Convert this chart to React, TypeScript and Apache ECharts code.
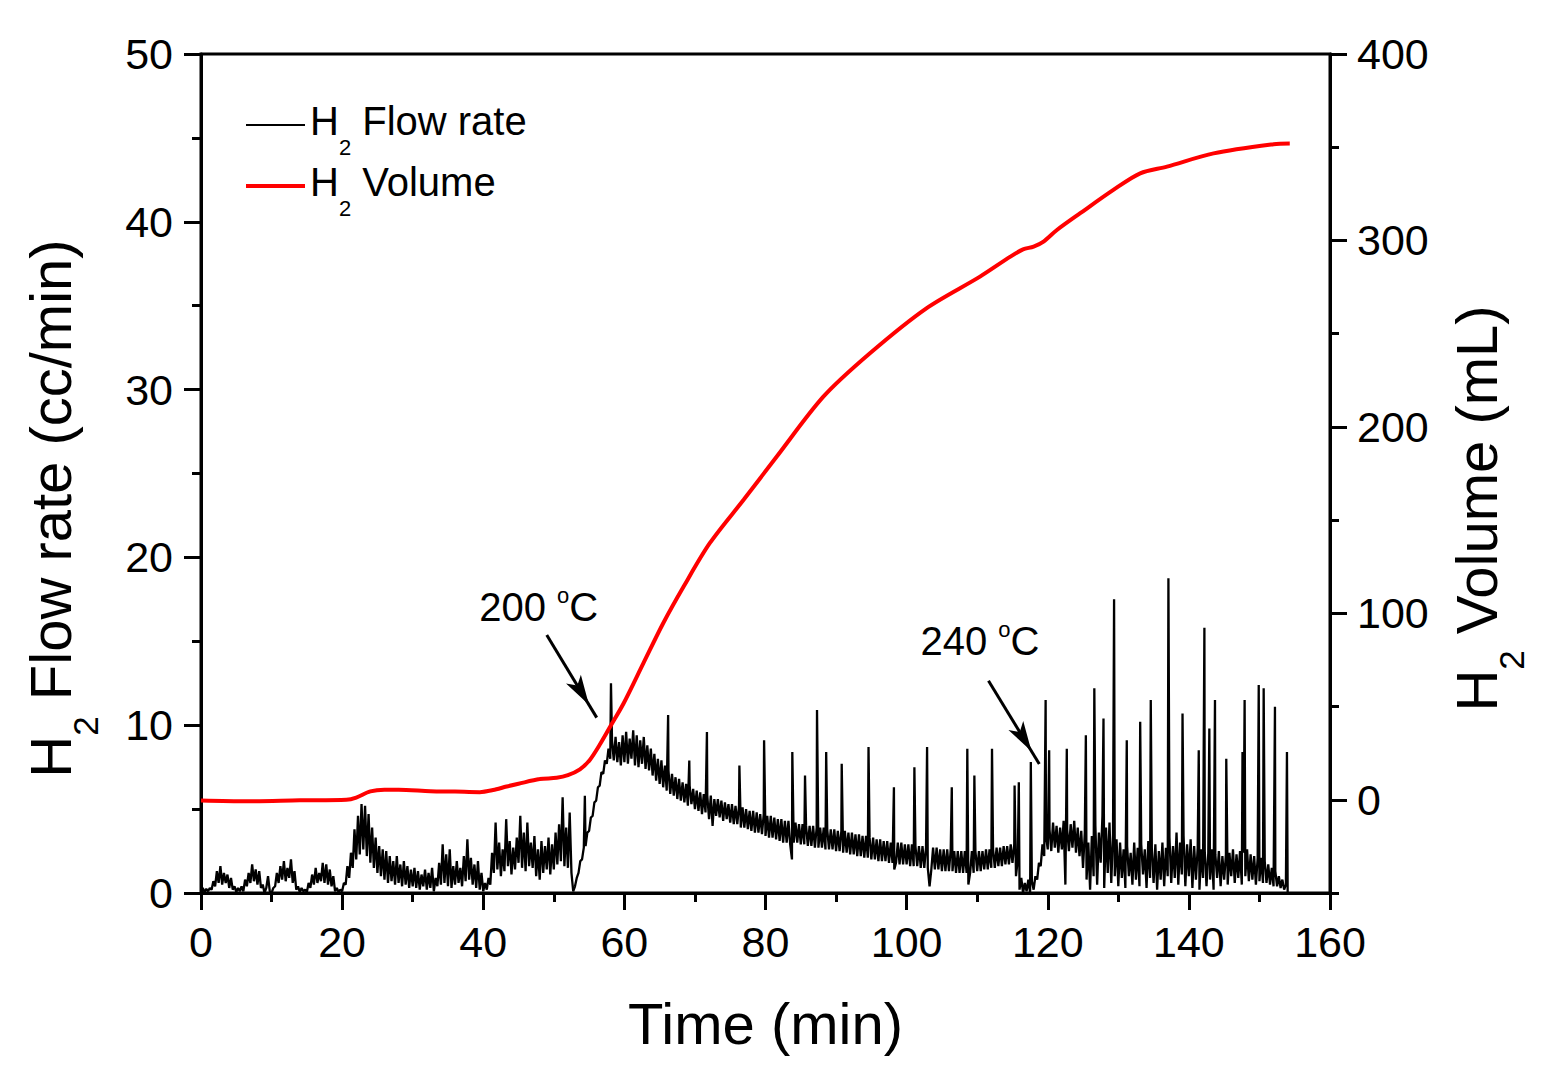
import { useEffect, useRef } from "react";
import * as echarts from "echarts";

const FONT = "'Liberation Sans', Arial, Helvetica, sans-serif";

// H2 flow rate (cc/min), one reading every 0.25 min from t = 0
const flowStep = 0.25;
const flowRate = [
  // 0 - 9.75 min
  0.1, 0.3, 0.05, 0.25, 0.1, 0.3, 0.2, 0.7, 0.4, 1.3, 0.6, 1.6, 0.5, 1.2, 0.6, 1.1, 0.3, 0.9, 0.2, 0.4,
  0.05, 0.3, 0.1, 0.4, 0.1, 0.8, 0.4, 1.2, 0.6, 1.7, 0.7, 1.4, 0.5, 1.3, 0.3, 0.5, 0.0, 0.3, 1.0, 0.1,
  // 10 - 19.75
  0.0, 0.3, 0.4, 1.2, 0.6, 1.6, 0.8, 1.9, 0.7, 1.5, 0.9, 2.0, 0.6, 1.3, 0.2, 0.4, 0.05, 0.3, 0.1, 0.2,
  0.05, 0.6, 0.3, 1.1, 0.5, 1.5, 0.6, 1.2, 0.7, 1.8, 0.6, 1.7, 0.5, 1.4, 0.4, 1.0, 0.1, 0.3, 0.05, 0.2,
  // 20 - 29.75
  0.1, 0.6, 0.5, 1.6, 0.9, 2.4, 1.5, 3.8, 2.0, 4.6, 2.3, 5.3, 2.6, 5.2, 2.2, 4.7, 1.8, 3.9, 1.5, 3.3,
  1.2, 2.8, 1.0, 2.6, 0.8, 2.5, 0.6, 2.2, 0.7, 1.9, 0.5, 2.2, 0.6, 1.7, 0.4, 1.9, 0.5, 1.6, 0.3, 1.4,
  // 30 - 39.75
  0.4, 1.5, 0.3, 1.3, 0.2, 1.1, 0.4, 1.4, 0.2, 1.2, 0.3, 1.5, 0.1, 0.9, 0.4, 1.8, 0.5, 2.9, 0.6, 2.3,
  0.4, 2.6, 0.3, 1.6, 0.5, 1.9, 0.6, 1.5, 0.4, 2.2, 0.7, 3.2, 0.8, 2.1, 0.5, 1.7, 0.3, 1.9, 0.2, 1.2,
  // 40 - 49.75
  0.1, 0.6, 0.2, 0.9, 0.5, 2.4, 1.2, 4.2, 1.4, 3.0, 1.0, 2.6, 1.3, 4.4, 1.6, 3.1, 1.1, 2.7, 1.4, 3.3,
  1.8, 4.6, 1.5, 3.6, 1.3, 4.2, 1.6, 3.0, 1.5, 3.4, 1.0, 2.6, 0.8, 3.1, 1.2, 2.8, 1.4, 3.3, 1.1, 2.9,
  // 50 - 59.75
  1.4, 3.6, 1.7, 4.1, 1.9, 5.7, 1.6, 3.9, 1.5, 4.8, 1.2, 0.1, 0.4, 0.9, 1.2, 1.9, 2.0, 2.7, 2.8, 3.6,
  3.7, 4.5, 4.6, 5.4, 5.5, 6.3, 6.4, 7.2, 7.1, 7.9, 7.7, 8.6, 8.0, 9.1, 7.9, 9.3, 7.8, 9.0, 7.6, 9.4,
  // 60 - 69.75
  7.8, 9.6, 7.7, 9.2, 8.0, 9.7, 7.6, 9.4, 7.5, 9.1, 7.7, 9.3, 7.4, 8.8, 7.3, 8.6, 7.0, 8.3, 6.7, 8.0,
  6.5, 7.9, 6.3, 7.6, 6.1, 7.3, 5.9, 7.1, 5.8, 6.9, 5.6, 6.8, 5.5, 6.6, 5.4, 6.5, 5.2, 6.4, 5.3, 6.2,
  // 70 - 79.75
  5.0, 6.1, 4.9, 6.0, 4.7, 5.9, 4.8, 5.8, 4.4, 5.8, 4.0, 5.6, 4.6, 5.6, 4.5, 5.5, 4.3, 5.4, 4.4, 5.3,
  4.2, 5.3, 4.1, 5.2, 4.1, 5.2, 3.9, 5.1, 3.9, 5.0, 3.8, 4.9, 3.7, 4.9, 3.6, 4.8, 3.6, 4.7, 3.5, 4.7,
  // 80 - 89.75
  3.4, 4.6, 3.3, 4.6, 3.3, 4.5, 3.2, 4.4, 3.1, 4.4, 3.0, 4.3, 3.0, 4.3, 2.9, 2.0, 3.0, 4.2, 3.0, 4.1,
  2.9, 4.1, 2.9, 4.0, 2.8, 4.0, 2.8, 4.0, 2.7, 3.9, 2.7, 3.9, 2.7, 3.9, 2.6, 3.8, 2.6, 3.8, 2.6, 3.8,
  // 90 - 99.75
  2.5, 3.7, 2.5, 3.7, 2.4, 3.7, 2.4, 3.6, 2.3, 3.6, 2.3, 3.5, 2.2, 3.5, 2.2, 3.4, 2.1, 3.4, 2.1, 3.3,
  2.0, 3.3, 2.0, 3.2, 1.9, 3.2, 1.9, 3.1, 1.9, 3.1, 1.8, 3.0, 1.8, 1.4, 1.8, 3.0, 1.7, 3.0, 1.7, 2.9,
  // 100 - 109.75
  1.7, 2.9, 1.6, 2.9, 1.6, 2.8, 1.6, 2.8, 1.5, 2.8, 1.5, 2.7, 1.5, 0.4, 1.4, 2.7, 1.4, 2.7, 1.4, 2.6,
  1.3, 2.6, 1.3, 2.6, 1.3, 2.6, 1.3, 2.5, 1.2, 2.5, 1.2, 2.5, 1.2, 2.5, 1.2, 0.5, 1.2, 2.5, 1.2, 2.5,
  // 110 - 119.75
  1.3, 2.5, 1.3, 2.5, 1.4, 2.6, 1.4, 2.6, 1.5, 2.6, 1.5, 2.7, 1.6, 2.7, 1.6, 2.8, 1.7, 2.8, 1.7, 2.9,
  1.8, 2.9, 1.0, 2.0, 0.2, 0.9, 0.0, 0.6, 0.1, 0.8, 0.0, 0.7, 0.2, 1.0, 0.8, 1.8, 1.6, 2.9, 2.2, 3.4,
  // 120 - 129.75
  2.6, 3.8, 2.5, 4.2, 2.7, 4.0, 2.4, 3.9, 2.6, 4.3, 0.5, 3.8, 2.5, 4.1, 2.7, 4.3, 2.4, 3.9, 2.2, 3.7,
  1.5, 3.6, 0.8, 3.0, 0.2, 3.4, 1.0, 4.0, 0.5, 3.6, 1.8, 4.6, 0.3, 3.9, 1.2, 4.2, 0.6, 3.5, 1.0, 3.2,
  // 130 - 139.75
  0.4, 3.0, 0.9, 2.6, 0.3, 2.8, 1.0, 2.4, 0.5, 3.0, 0.8, 2.7, 0.4, 2.9, 1.1, 2.6, 0.3, 3.1, 0.9, 2.7,
  0.6, 2.9, 0.2, 2.5, 0.8, 3.0, 0.4, 2.7, 1.0, 3.3, 0.6, 2.8, 0.9, 3.6, 0.5, 3.0, 1.1, 3.4, 0.4, 2.9,
  // 140 - 149.75
  1.0, 3.2, 0.3, 2.8, 0.8, 2.7, 0.2, 2.6, 0.9, 2.5, 0.4, 2.4, 0.8, 2.6, 0.2, 2.3, 0.9, 2.5, 0.4, 2.2,
  0.8, 2.3, 0.5, 2.4, 1.0, 2.6, 0.6, 2.3, 0.9, 2.5, 0.5, 2.4, 1.0, 2.6, 0.7, 2.3, 0.8, 2.2, 0.5, 2.1,
  // 150 - 154
  0.7, 2.1, 0.6, 1.9, 0.6, 1.7, 0.5, 1.5, 0.4, 1.3, 0.4, 1.0, 0.3, 0.8, 0.2, 0.5, 0.0,
];

// single-reading spikes: [time (min), flow rate (cc/min)]
const flowSpikes = [
  [54.4, 5.8], [58.1, 12.5], [66.2, 10.6], [69.2, 7.9], [71.7, 9.6], [76.3, 7.6],
  [79.8, 9.1], [83.8, 8.4], [85.6, 7.0], [87.3, 10.9], [88.6, 8.4], [90.8, 7.7],
  [94.6, 8.7], [98.2, 6.3], [101.1, 7.5], [102.9, 8.7], [106.4, 6.3], [108.6, 8.6],
  [109.6, 7.0], [112.1, 8.6], [115.3, 6.4], [115.9, 6.6], [117.6, 7.8], [119.7, 11.5],
  [120.2, 8.5], [122.7, 8.6], [125.4, 9.4], [126.6, 12.2], [127.9, 10.4], [129.4, 17.5],
  [131.2, 9.1], [133.1, 10.2], [134.6, 11.5], [137.1, 18.75], [139.1, 10.7], [141.4, 8.5],
  [142.2, 15.8], [142.9, 9.8], [143.7, 11.5], [145.3, 8.0], [147.6, 8.4], [147.9, 11.5],
  [149.9, 12.4], [150.6, 12.2], [152.2, 11.1], [153.9, 8.4],
];

// cumulative H2 volume
const volumeTime = [
  0, 6.5, 14, 20.6, 22, 24, 26, 28, 32.5, 36, 39.5, 41.4, 43.3, 45, 48, 50.4, 52, 53.7,
  55.1, 56.5, 58, 59.9, 62.7, 65.5, 68.4, 72.1, 76.9, 81.6, 88.2, 94.8, 102.8, 110.4,
  114.7, 116.5, 118, 119.4, 121.3, 124.6, 129.3, 133.1, 136.9, 143.5, 152, 154.3,
];
const volumeMl = [
  -0.4, -0.8, -0.3, 0, 1.2, 4.5, 5.4, 5.4, 4.6, 4.4, 4.1, 5.2, 7.1, 8.6, 11.1, 11.8, 13.2, 16.3,
  21.4, 29.5, 39.3, 51.8, 73.3, 94.7, 114.4, 137.6, 160.9, 184.1, 216.2, 239.5, 263.6, 280.6,
  291.3, 295.2, 296.7, 299.4, 305.6, 314.6, 327.1, 336.0, 339.6, 346.7, 351.6, 352.0,
];

// temperature notes: label anchor and arrow, in (min, cc/min)
const notes = [
  { label: "200", at: [47.86, 17.28], from: [49.0, 15.38], to: [56.08, 10.45] },
  { label: "240", at: [110.4, 15.25], from: [111.6, 12.65], to: [118.8, 7.69] },
];

const FLOW_NAME = "H2 Flow rate";
const VOLUME_NAME = "H2 Volume";

const GRID = { left: 201, top: 54, width: 1129, height: 839 };
const VOL_MIN = -50;
const VOL_MAX = 400;

const black = "#000";
const red = "#ff0000";
const axisLine = { onZero: false, lineStyle: { color: black, width: 3 } };
const tickStyle = { color: black, width: 3 };
const tickLabel = { fontSize: 43, color: black, fontFamily: FONT };

const Chart: React.FC = () => {
  const chartRef = useRef<HTMLDivElement>(null);

  useEffect(() => {
    if (!chartRef.current) return;
    const chart = echarts.init(chartRef.current, null, { renderer: "svg" });

    const flowData: number[][] = flowRate.map((v, i) => [i * flowStep, v]);
    flowSpikes.forEach((p) => flowData.push(p));
    flowData.sort((a, b) => a[0] - b[0]);
    const volumeData = volumeTime.map((t, i) => [t, volumeMl[i]]);

    const titleRich = {
      t: { fontSize: 58, lineHeight: 64, verticalAlign: "top", fontFamily: FONT, color: black },
      s: { fontSize: 35, lineHeight: 35, verticalAlign: "top", padding: [47, 0, 0, 0], fontFamily: FONT, color: black },
    };

    const option = {
      animation: false,
      textStyle: { fontFamily: FONT, color: black },
      grid: [
        { ...GRID, show: true, borderColor: black, borderWidth: 3, backgroundColor: "transparent" },
        // same plot area, cut at volume 0 so the labelled ticks sit at 0..400
        { left: GRID.left, top: GRID.top, width: GRID.width, height: (GRID.height * VOL_MAX) / (VOL_MAX - VOL_MIN) },
      ],
      legend: {
        orient: "vertical",
        left: 246,
        top: 101,
        padding: 0,
        itemGap: 4,
        itemWidth: 59,
        itemHeight: 14,
        data: [
          { name: FLOW_NAME, icon: "path://M0,0H59V2H0Z", itemStyle: { color: black } },
          { name: VOLUME_NAME, icon: "path://M0,0H59V4H0Z", itemStyle: { color: red } },
        ],
        formatter: (name: string) => `{a|H}{s|2}{a| ${name.slice(3)}}`,
        textStyle: {
          rich: {
            a: { fontSize: 40, lineHeight: 48, verticalAlign: "top", fontFamily: FONT, color: black },
            s: { fontSize: 22, lineHeight: 22, verticalAlign: "top", padding: [35, 0, 0, 0], fontFamily: FONT, color: black },
          },
        },
      },
      xAxis: [
        {
          gridIndex: 0,
          type: "value",
          position: "bottom",
          min: 0,
          max: 160,
          interval: 20,
          axisLine,
          axisTick: { length: 17, lineStyle: tickStyle },
          minorTick: { show: true, splitNumber: 2, length: 9, lineStyle: tickStyle },
          axisLabel: { ...tickLabel, margin: 27 },
          splitLine: { show: false },
          name: "Time (min)",
          nameLocation: "middle",
          nameGap: 101,
          nameTextStyle: { fontSize: 58, lineHeight: 58, color: black, fontFamily: FONT },
        },
        { gridIndex: 1, type: "value", min: 0, max: 160, show: false, axisLine: { onZero: false }, splitLine: { show: false } },
      ],
      yAxis: [
        {
          gridIndex: 0,
          type: "value",
          position: "left",
          min: 0,
          max: 50,
          interval: 10,
          axisLine,
          axisTick: { length: 17, lineStyle: tickStyle },
          minorTick: { show: true, splitNumber: 2, length: 9, lineStyle: tickStyle },
          axisLabel: { ...tickLabel, margin: 28 },
          splitLine: { show: false },
          name: "{t|H}{s|2}{t| Flow rate (cc/min)}",
          nameLocation: "middle",
          nameRotate: 90,
          nameGap: 116,
          nameTextStyle: { padding: [0, 70, 0, 0], rich: titleRich },
        },
        {
          gridIndex: 0,
          type: "value",
          position: "right",
          min: VOL_MIN,
          max: VOL_MAX,
          interval: 50,
          axisLine,
          axisTick: { length: 9, lineStyle: tickStyle },
          axisLabel: { show: false },
          splitLine: { show: false },
          name: "{t|H}{s|2}{t| Volume (mL)}",
          nameLocation: "middle",
          nameRotate: 90,
          nameGap: 117,
          nameTextStyle: { padding: [0, 70, 0, 0], rich: titleRich },
        },
        {
          gridIndex: 1,
          type: "value",
          position: "right",
          min: 0,
          max: VOL_MAX,
          interval: 100,
          axisLine: { show: false, onZero: false },
          axisTick: { length: 17, lineStyle: tickStyle },
          axisLabel: { ...tickLabel, margin: 27 },
          splitLine: { show: false },
        },
      ],
      series: [
        {
          name: FLOW_NAME,
          type: "line",
          xAxisIndex: 0,
          yAxisIndex: 0,
          data: flowData,
          symbol: "none",
          lineStyle: { color: black, width: 2.3 },
          itemStyle: { color: black },
          z: 2,
          markLine: {
            silent: true,
            symbol: ["none", "arrow"],
            lineStyle: { color: black, width: 3, type: "solid" },
            label: { show: false },
            data: notes.map((n) => [
              { coord: n.from, symbol: "none" },
              { coord: n.to, symbol: "arrow", symbolSize: [13, 30], symbolOffset: [0, 15] },
            ]),
          },
          markPoint: {
            silent: true,
            symbol: "rect",
            symbolSize: 1,
            itemStyle: { color: "transparent" },
            label: {
              show: true,
              position: "inside",
              formatter: (p: any) => `{n|${p.name} }{o|o}{n|C}`,
              rich: {
                n: { fontSize: 40, lineHeight: 48, verticalAlign: "top", padding: [8, 0, 0, 0], fontFamily: FONT, color: black },
                o: { fontSize: 22, lineHeight: 22, verticalAlign: "top", padding: [5, 0, 0, 0], fontFamily: FONT, color: black },
              },
            },
            data: notes.map((n) => ({ name: n.label, coord: n.at })),
          },
        },
        {
          name: VOLUME_NAME,
          type: "line",
          xAxisIndex: 0,
          yAxisIndex: 1,
          data: volumeData,
          smooth: 0.3,
          symbol: "none",
          lineStyle: { color: red, width: 4 },
          itemStyle: { color: red },
          z: 3,
        },
      ],
    };

    chart.setOption(option as any);

    return () => {
      chart.dispose();
    };
  }, []);

  return (
    <div
      ref={chartRef}
      style={{ position: "fixed", left: 0, top: 0, width: "1558px", height: "1074px", background: "#fff" }}
    />
  );
};

export default function App() {
  return <Chart />;
}
